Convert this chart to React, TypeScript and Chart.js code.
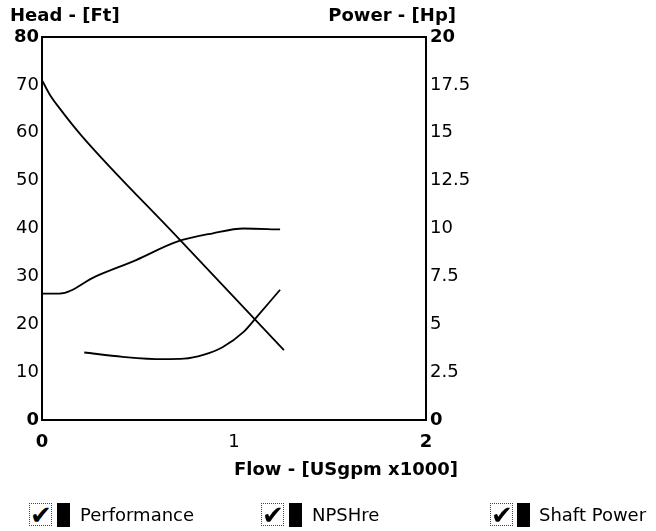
import { useEffect, useRef } from "react";
import { Chart, registerables } from "chart.js";

Chart.register(...registerables);

// ---- data ----
const flowTicks = [0, 1, 2]; // USgpm x1000
const headTicks = [0, 10, 20, 30, 40, 50, 60, 70, 80]; // Ft
const powerTicks = [0, 2.5, 5, 7.5, 10, 12.5, 15, 17.5, 20]; // Hp

const perfFlow = [0, 0.04, 0.09, 0.21, 0.7, 1.26];
const perfHead = [71, 68.0, 65.2, 59.2, 38.4, 14.6];

const npshFlow = [0.22, 0.42, 0.63, 0.74, 0.84, 0.94, 1.05, 1.12, 1.24];
const npshHead = [14.1, 13.2, 12.7, 12.8, 13.6, 15.2, 18.4, 21.6, 27.2];

const powerFlow = [0, 0.09, 0.28, 0.49, 0.7, 0.89, 1.05, 1.24];
const powerHp = [6.6, 6.6, 7.5, 8.35, 9.3, 9.75, 10.0, 9.95];

const legendLabels = ["Performance", "NPSHre", "Shaft Power"];
const headTitle = "Head - [Ft]";
const powerTitle = "Power - [Hp]";
const flowTitle = "Flow - [USgpm x1000]";

// ---- layout (not data) ----
const W = 656;
const H = 531;
const AREA = { left: 42, right: 426, top: 37, bottom: 420 };
const legendPos = [
  { box: 29, bar: 57, text: 80 },
  { box: 261, bar: 289, text: 312 },
  { box: 490, bar: 517, text: 539 },
];
const FONT = "'DejaVu Sans', Verdana, sans-serif";

function pts(xs: number[], ys: number[]) {
  return xs.map((x, i) => ({ x, y: ys[i] }));
}

export default function App() {
  const ref = useRef<HTMLCanvasElement>(null);

  useEffect(() => {
    document.body.style.margin = "0";
    const frame = {
      id: "frame",
      afterDraw(chart: any) {
        const { ctx, chartArea } = chart;
        ctx.save();
        ctx.strokeStyle = "#000";
        ctx.lineWidth = 2;
        ctx.beginPath();
        ctx.moveTo(chartArea.left, chartArea.top);
        ctx.lineTo(chartArea.right, chartArea.top);
        ctx.stroke();
        ctx.restore();
      },
    };
    const tickFont = (extremes: number[]) => (c: any) => ({
      family: FONT,
      size: 18,
      weight: c.tick && extremes.includes(c.tick.value) ? "bold" : "normal",
    });
    const line = {
      borderColor: "#000",
      borderWidth: 1.8,
      pointRadius: 0,
      fill: false,
      cubicInterpolationMode: "monotone" as const,
    };
    const chart = new Chart(ref.current!, {
      type: "line",
      data: {
        datasets: [
          { label: legendLabels[0], data: pts(perfFlow, perfHead), yAxisID: "y", ...line },
          { label: legendLabels[1], data: pts(npshFlow, npshHead), yAxisID: "y", ...line },
          { label: legendLabels[2], data: pts(powerFlow, powerHp), yAxisID: "y1", ...line },
        ],
      },
      options: {
        animation: false,
        responsive: true,
        maintainAspectRatio: false,
        layout: { padding: { top: AREA.top, left: 0, right: 0, bottom: 0 } },
        plugins: { legend: { display: false }, tooltip: { enabled: false } },
        events: [],
        scales: {
          x: {
            type: "linear",
            min: flowTicks[0],
            max: flowTicks[flowTicks.length - 1],
            afterBuildTicks: (s: any) => {
              s.ticks = flowTicks.map((v) => ({ value: v }));
            },
            ticks: {
              color: "#000",
              padding: 12,
              maxRotation: 0,
              font: tickFont([0, 2]) as any,
            },
            grid: { display: false, drawTicks: false },
            border: { display: true, color: "#000", width: 2 },
            afterFit: (s: any) => {
              s.height = H - AREA.bottom;
            },
          },
          y: {
            position: "left",
            min: 0,
            max: 80,
            afterBuildTicks: (s: any) => {
              s.ticks = headTicks.map((v) => ({ value: v }));
            },
            ticks: { color: "#000", padding: 3, font: tickFont([0, 80]) as any },
            grid: { display: false, drawTicks: false },
            border: { display: true, color: "#000", width: 2 },
            afterFit: (s: any) => {
              s.width = AREA.left;
            },
          },
          y1: {
            position: "right",
            min: 0,
            max: 20,
            afterBuildTicks: (s: any) => {
              s.ticks = powerTicks.map((v) => ({ value: v }));
            },
            ticks: { color: "#000", padding: 4, font: tickFont([0, 20]) as any },
            grid: { display: false, drawTicks: false },
            border: { display: true, color: "#000", width: 2 },
            afterFit: (s: any) => {
              s.width = W - AREA.right;
            },
          },
        },
      },
      plugins: [frame],
    });
    return () => chart.destroy();
  }, []);

  const titleStyle: React.CSSProperties = {
    position: "absolute",
    fontFamily: FONT,
    fontWeight: "bold",
    fontSize: 18,
    lineHeight: "18px",
    color: "#000",
    whiteSpace: "nowrap",
  };

  return (
    <div style={{ position: "absolute", left: 0, top: 0, width: W, height: H, background: "#fff", overflow: "hidden" }}>
      <div style={{ position: "absolute", left: 0, top: 0, width: W, height: H }}>
        <canvas ref={ref} />
      </div>
      <div style={{ ...titleStyle, left: 10, top: 6 }}>{headTitle}</div>
      <div style={{ ...titleStyle, right: W - 456, top: 6 }}>{powerTitle}</div>
      <div style={{ ...titleStyle, right: W - 458, top: 460 }}>{flowTitle}</div>
      {legendLabels.map((lab, i) => (
        <div key={lab}>
          <div
            style={{
              position: "absolute",
              left: legendPos[i].box,
              top: 503,
              width: 21,
              height: 21,
              border: "1px dotted #444",
              background: "#fff",
              fontFamily: FONT,
              fontSize: 26,
              lineHeight: "22px",
              textAlign: "center",
              fontWeight: "bold",
              color: "#000",
              overflow: "hidden",
            }}
          >
            ✔
          </div>
          <div style={{ position: "absolute", left: legendPos[i].bar, top: 503, width: 13, height: 24, background: "#000" }} />
          <div
            style={{
              position: "absolute",
              left: legendPos[i].text,
              top: 506,
              fontFamily: FONT,
              fontSize: 18,
              lineHeight: "18px",
              color: "#000",
              whiteSpace: "nowrap",
            }}
          >
            {lab}
          </div>
        </div>
      ))}
    </div>
  );
}
